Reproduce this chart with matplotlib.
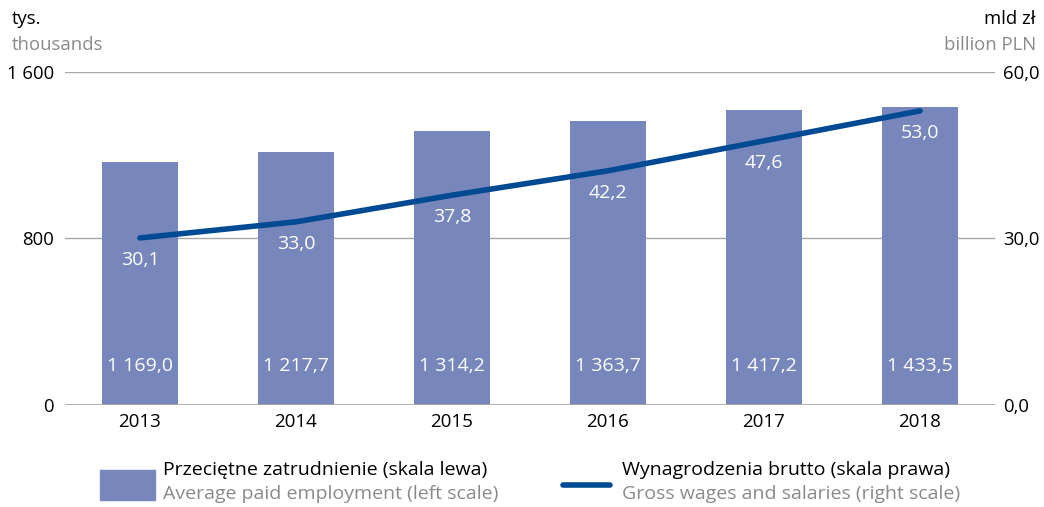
import matplotlib.pyplot as plt
import numpy as np
from matplotlib.patches import Rectangle
from matplotlib.lines import Line2D

plt.rcParams['font.family'] = ['Open Sans', 'DejaVu Sans']

years = ["2013", "2014", "2015", "2016", "2017", "2018"]
employment = [1169.0, 1217.7, 1314.2, 1363.7, 1417.2, 1433.5]
wages = [30.1, 33.0, 37.8, 42.2, 47.6, 53.0]

left_ticks = [0, 800, 1600]
left_tick_labels = ["0", "800", "1 600"]
right_ticks = [0, 30, 60]
right_tick_labels = ["0,0", "30,0", "60,0"]

bar_color = "#7887bb"
line_color = "#004a93"
grid_color = "#a6a6a6"
gray_text = "#8a8a8a"


def pl(v, fmt="{:,.1f}"):
    return fmt.format(v).replace(",", " ").replace(".", ",")


fig = plt.figure(figsize=(10.44, 5.07), dpi=100)
ax = fig.add_axes([0.0623, 0.2012, 0.8907, 0.6568])
ax2 = ax.twinx()

x = np.arange(len(years))
ax.bar(x, employment, width=0.49, color=bar_color, zorder=2)
ax.set_xlim(-0.48, 5.48)
ax.set_ylim(0, 1600)
ax2.set_ylim(0, 60)

for yv in left_ticks[1:]:
    ax.axhline(yv, color=grid_color, lw=1.0, zorder=1)
ax.axhline(0, color=grid_color, lw=2.0, zorder=3)

ax2.plot(x, wages, color=line_color, lw=4, solid_capstyle="round", zorder=4)

for xi, v in zip(x, employment):
    ax.text(xi, 185, pl(v), ha="center", va="center", color="white", fontsize=14, zorder=5)
for xi, v in zip(x, wages):
    ax2.annotate(pl(v), (xi, v), xytext=(0, -16), textcoords="offset points",
                 ha="center", va="center", color="white", fontsize=14, zorder=5)

for a in (ax, ax2):
    for s in a.spines.values():
        s.set_visible(False)

ax.set_xticks(x)
ax.set_xticklabels(years, fontsize=13.5)
ax.set_yticks(left_ticks)
ax.set_yticklabels(left_tick_labels, fontsize=13.3)
ax2.set_yticks(right_ticks)
ax2.set_yticklabels(right_tick_labels, fontsize=13.3)
ax.tick_params(axis="both", length=0, pad=8)
ax2.tick_params(axis="y", length=0, pad=6)
ax.tick_params(axis="x", pad=6)

fig.text(0.011, 0.963, "tys.", fontsize=13.3, va="center", ha="left")
fig.text(0.011, 0.911, "thousands", fontsize=13.3, va="center", ha="left", color=gray_text)
fig.text(0.992, 0.963, "mld zł", fontsize=13.3, va="center", ha="right")
fig.text(0.992, 0.911, "billion PLN", fontsize=13.3, va="center", ha="right", color=gray_text)

# legenda
fig.add_artist(Rectangle((100 / 1044, 1 - 500 / 507), 55 / 1044, 30 / 507,
                         transform=fig.transFigure, color=bar_color))
fig.text(163 / 1044, 1 - 470 / 507, "Przeciętne zatrudnienie (skala lewa)", fontsize=14, va="center")
fig.text(163 / 1044, 1 - 494 / 507, "Average paid employment (left scale)", fontsize=14, va="center", color=gray_text)
fig.add_artist(Line2D([563 / 1044, 610 / 1044], [1 - 485 / 507, 1 - 485 / 507],
                      transform=fig.transFigure, color=line_color, lw=4, solid_capstyle="round"))
fig.text(622 / 1044, 1 - 470 / 507, "Wynagrodzenia brutto (skala prawa)", fontsize=14, va="center")
fig.text(622 / 1044, 1 - 494 / 507, "Gross wages and salaries (right scale)", fontsize=14, va="center", color=gray_text)

fig.savefig("out.png", dpi=100)
